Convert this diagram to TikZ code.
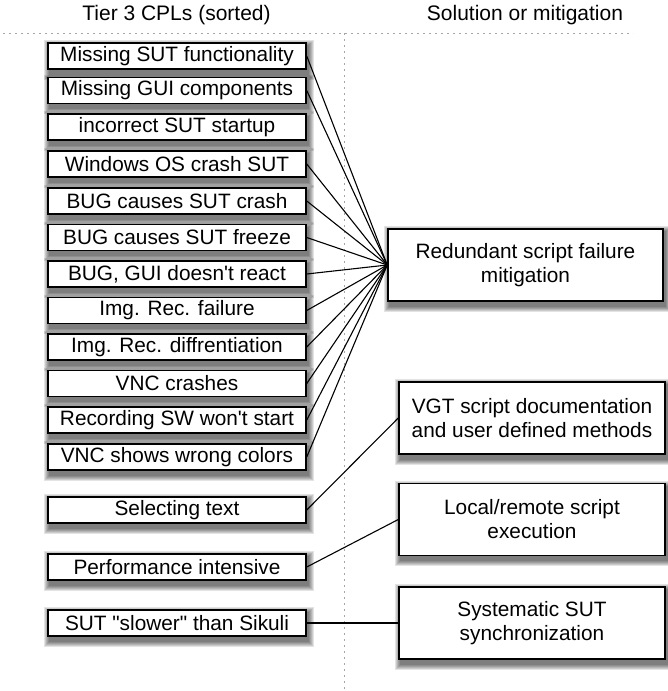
\documentclass[tikz,border=0pt]{standalone}
\usepackage{fontspec}
\setmainfont{Liberation Sans}[Ligatures=TeXOff]
\usetikzlibrary{backgrounds}
\begin{document}
\begin{tikzpicture}[x=1pt,y=-1pt,
  font=\fontsize{20.8}{24}\selectfont,
  sep/.style={draw=black!35, line width=1pt, dash pattern=on 2pt off 4pt},
  cause/.style={draw=black, fill=white, line width=1.5pt, minimum width=258pt,
    minimum height=26pt, inner sep=0pt},
  remedy/.style={draw=black, fill=white, line width=1.5pt, minimum width=266pt,
    minimum height=72pt, inner sep=0pt, align=center},
  header/.style={font=\fontsize{21}{24}\selectfont, inner sep=0pt},
  link/.style={draw=black, line width=1.1pt},
  softshade/.style={fill=black, opacity=0.11}]
\path[use as bounding box] (0,0) rectangle (667,691);

% column separators
\draw[sep] (3,33) -- (633,33);
\draw[sep] (344,33) -- (344,691);

% column headings
\node[header] (h1) at (176.5,15) {Tier 3 CPLs (sorted)};
\node[header] (h2) at (525,15) {Solution or mitigation};

% causes
\node[cause] (c1)  at (177,56)    {Missing SUT functionality};
\node[cause] (c2)  at (177,90.5)  {Missing GUI components};
\node[cause] (c3)  at (177,127)   {incorrect SUT startup};
\node[cause] (c4)  at (177,164)   {Windows OS crash SUT};
\node[cause] (c5)  at (177,201)   {BUG causes SUT crash};
\node[cause] (c6)  at (177,237.5) {BUG causes SUT freeze};
\node[cause] (c7)  at (177,274)   {BUG, GUI doesn't react};
\node[cause] (c8)  at (177,310.5) {Img. Rec. failure};
\node[cause] (c9)  at (177,347)   {Img. Rec. diffrentiation};
\node[cause] (c10) at (177,383.5) {VNC crashes};
\node[cause] (c11) at (177,420)   {Recording SW won't start};
\node[cause] (c12) at (177,457)   {VNC shows wrong colors};
\node[cause] (c13) at (177,510)   {Selecting text};
\node[cause] (c14) at (177,567)   {Performance intensive};
\node[cause] (c15) at (177,623)   {SUT "slower" than Sikuli};

% remedies
\node[remedy, minimum width=275pt] (r1) at (525.5,265) {Redundant script failure\\mitigation};
\node[remedy] (r2) at (532,418)   {VGT script documentation\\and user defined methods};
\node[remedy] (r3) at (532,519.5) {Local/remote script\\execution};
\node[remedy] (r4) at (532,623)   {Systematic SUT\\synchronization};

% soft drop shadows behind every box
\begin{pgfonlayer}{background}
  \foreach \b in {c1,c2,c3,c4,c5,c6,c7,c8,c9,c10,c11,c12,c13,c14,c15,r1,r2,r3,r4}
    \foreach \k in {0,1,...,5}
      \fill[softshade] ([shift={(2-\k,5+\k)}]\b.south west) rectangle ([shift={(2+\k,3-\k)}]\b.north east);
\end{pgfonlayer}

% links
\foreach \c in {c1,c2,c4,c5,c6,c7,c8,c9,c10,c11,c12}
  \draw[link] (\c.east) -- (r1.west);
\draw[link] (c13.east) -- (r2.west);
\draw[link] (c14.east) -- (r3.west);
\draw[link] (c15.east) -- (r4.west);
\end{tikzpicture}
\end{document}
